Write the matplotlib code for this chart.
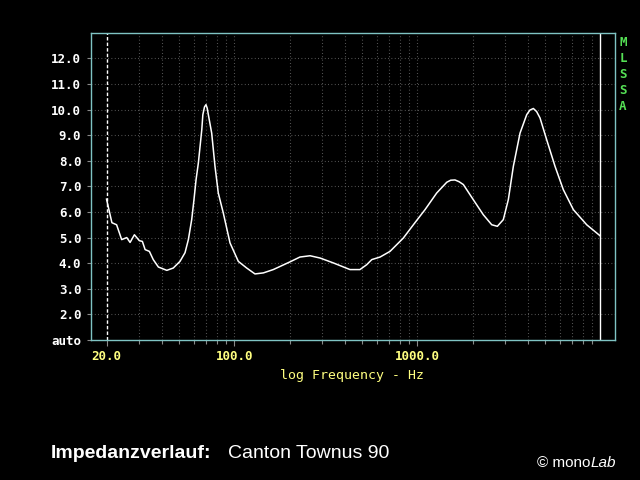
import matplotlib
matplotlib.use("Agg")
import matplotlib.pyplot as plt
from matplotlib.ticker import FixedLocator, NullFormatter

# impedance curve (Hz, Ohm)
freq = [20, 21.4, 22.7, 24.2, 25.8, 26.9, 28.4, 30.2, 31.4, 32.5, 34.3, 36.0,
        38.4, 42.7, 46.3, 50.4, 53.7, 56.0, 58.4, 60.1, 61.7, 63.5, 66.3, 67.2,
        68.6, 69.9, 71.0, 72.0, 75.1, 78.3, 81.6, 86.9, 94.6, 105, 116.7, 129.5,
        143.9, 163, 201, 228, 259, 294, 347, 428, 485, 528, 563, 625, 708, 837,
        950, 1100, 1274, 1446, 1520, 1604, 1690, 1782, 2019, 2291, 2547, 2733,
        2946, 3138, 3342, 3636, 3955, 4120, 4300, 4480, 4676, 5084, 5648, 6269,
        7113, 8413, 9955]
imp = [6.5, 5.58, 5.5, 4.92, 5.0, 4.81, 5.11, 4.88, 4.85, 4.53, 4.46, 4.14,
       3.85, 3.72, 3.81, 4.07, 4.41, 4.92, 5.70, 6.48, 7.26, 7.91, 9.21, 9.80,
       10.1, 10.19, 10.05, 9.80, 9.08, 7.78, 6.74, 5.96, 4.79, 4.07, 3.81, 3.58,
       3.62, 3.75, 4.05, 4.24, 4.29, 4.20, 4.01, 3.75, 3.75, 3.94, 4.14, 4.24,
       4.46, 4.98, 5.50, 6.09, 6.74, 7.16, 7.24, 7.25, 7.18, 7.07, 6.48, 5.89,
       5.50, 5.44, 5.70, 6.48, 7.78, 9.08, 9.80, 9.98, 10.04, 9.92, 9.67, 8.82,
       7.78, 6.87, 6.09, 5.50, 5.07]

y_ticks = list(range(1, 13))
y_labels = ['auto'] + ['%d.0' % v for v in range(2, 13)]
x_major = [20, 100, 1000]
x_major_labels = ['20.0', '100.0', '1000.0']
x_minor = [30, 40, 50, 60, 70, 80, 90,
           200, 300, 400, 500, 600, 700, 800, 900,
           2000, 3000, 4000, 5000, 6000, 7000, 8000, 9000]

frame_col = '#7fc4c4'
yellow = '#ffff80'
grid_col = '#6a6a6a'

fig = plt.figure(figsize=(6.4, 4.8), dpi=100, facecolor='black')
ax = fig.add_axes([91 / 640, 140 / 480, 524 / 640, 307.3 / 480], facecolor='black')

ax.set_xscale('log')
ax.set_xlim(16.45, 12010)
ax.set_ylim(1, 13)

# grid
for f in x_minor + [100, 1000]:
    ax.axvline(f, color=grid_col, lw=0.8, dashes=(0.7, 2.3), zorder=1)
for v in range(2, 13):
    ax.axhline(v, color=grid_col, lw=0.8, dashes=(0.7, 2.3), zorder=1)
ax.axvline(20, color='white', lw=1.0, dashes=(2.5, 1.5), zorder=2)
ax.axvline(10000, color='white', lw=1.0, zorder=2)

ax.plot(freq, imp, color='white', lw=1.1, zorder=3)

for s in ax.spines.values():
    s.set_color(frame_col)
    s.set_linewidth(1.0)

ax.yaxis.set_major_locator(FixedLocator(y_ticks))
ax.set_yticklabels(y_labels)
ax.tick_params(axis='y', which='major', direction='out', length=3, width=0.8,
               color='#8a8a8a', pad=4, labelcolor='white', labelsize=9)
ax.yaxis.set_minor_locator(FixedLocator([]))

ax.xaxis.set_major_locator(FixedLocator(x_major))
ax.set_xticklabels(x_major_labels)
ax.xaxis.set_minor_locator(FixedLocator(x_minor))
ax.xaxis.set_minor_formatter(NullFormatter())
ax.tick_params(axis='x', which='major', direction='out', length=4.5, width=0.8,
               color='#8a8a8a', pad=3, labelcolor=yellow, labelsize=9)
ax.tick_params(axis='x', which='minor', direction='out', length=2.8, width=0.8,
               color='#8a8a8a')

for lab in ax.get_xticklabels() + ax.get_yticklabels():
    lab.set_family('DejaVu Sans Mono')
    lab.set_weight('bold')

ax.set_xlabel('log Frequency - Hz', color=yellow, family='DejaVu Sans Mono',
              fontsize=9.5, va='center')
ax.xaxis.set_label_coords(0.498, -0.114)

for ch, ypix in zip('MLSSA', [43, 58.5, 74.5, 90, 106]):
    fig.text(623 / 640, 1 - ypix / 480, ch, color='#55e055', family='DejaVu Sans Mono',
             weight='bold', fontsize=9, ha='center', va='center')

fig.text(51 / 640, 1 - 453 / 480, 'Impedanzverlauf:', color='white', weight='bold',
         family='Liberation Sans', fontsize=14, ha='left', va='center')
fig.text(228 / 640, 1 - 453 / 480, 'Canton Townus 90', color='white',
         family='Liberation Sans', fontsize=14, ha='left', va='center')
fig.text(590 / 640, 1 - 463 / 480, '\u00a9 mono', color='white',
         family='Liberation Sans', fontsize=11, ha='right', va='center')
fig.text(591 / 640, 1 - 463 / 480, 'Lab', color='white', style='italic',
         family='Liberation Sans', fontsize=11, ha='left', va='center')

fig.savefig('out.png', dpi=100, facecolor='black')
